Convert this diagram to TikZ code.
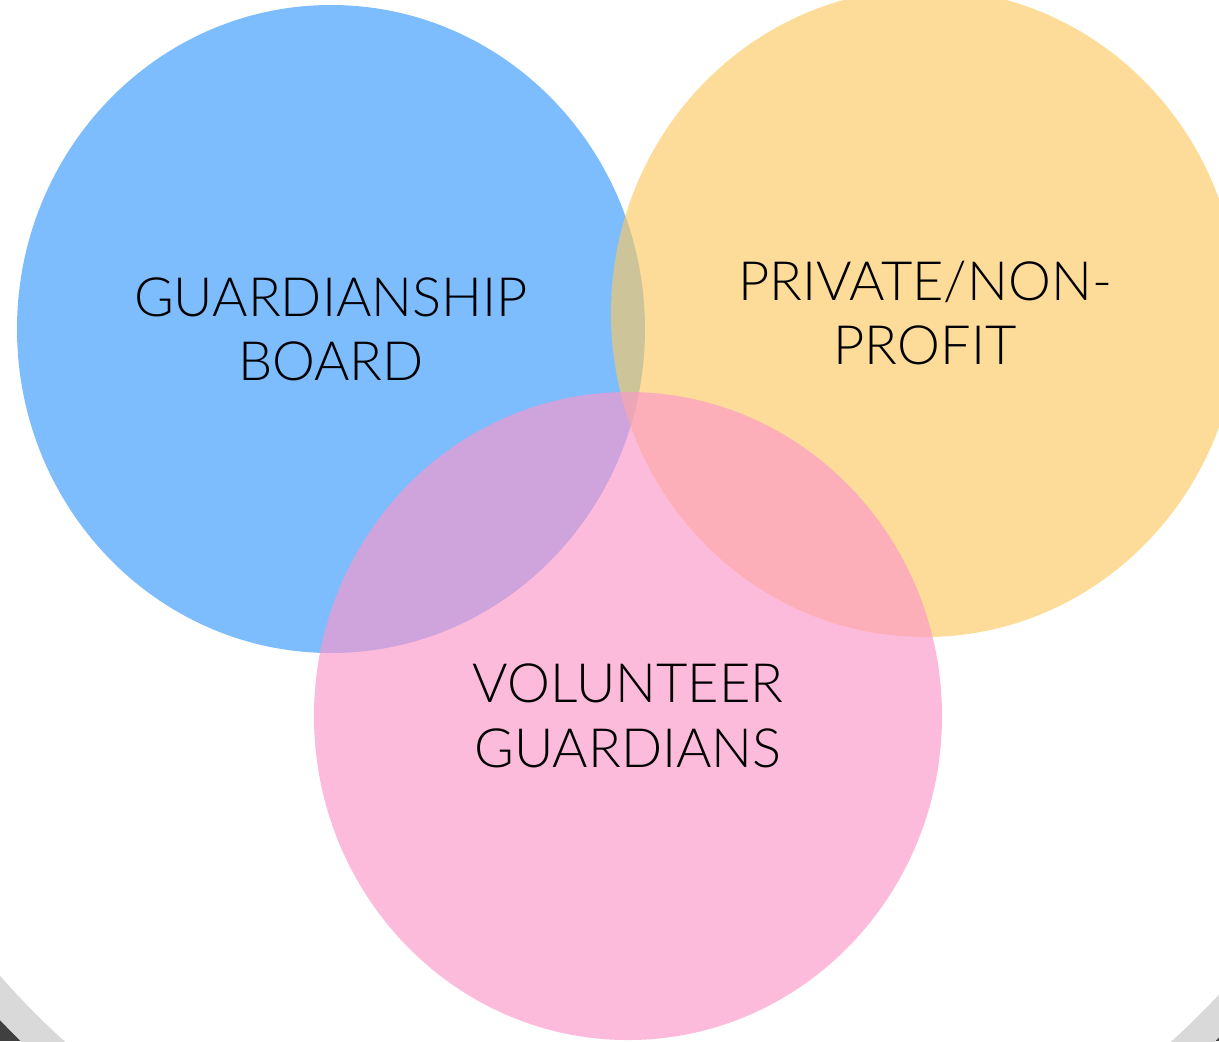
\documentclass[tikz,border=0pt]{standalone}
\usepackage{fontspec}
\setmainfont{Lato Light}
\usetikzlibrary{positioning}
\definecolor{azul}{RGB}{125,189,254}
\definecolor{naranja}{RGB}{253,201,95}
\definecolor{rosa}{RGB}{252,151,202}
\definecolor{grisclaro}{RGB}{217,217,217}
\definecolor{grisoscuro}{RGB}{64,64,64}
\tikzset{
    conjunto/.style={x radius=314, y radius=324},
    etiqueta/.style={align=center, text=black,
        font=\fontsize{15.4}{18.3}\selectfont}}

\begin{document}
\begin{tikzpicture}[x=0.01cm, y=0.01cm]
    \useasboundingbox (0,0) rectangle (1219,-1041);
    \begin{scope}
        \clip (0,0) rectangle (1219,-1041);
        \fill[grisoscuro] (0,0) rectangle (1219,-1041);
        \fill[grisclaro] (618,-432) circle [radius=853];
        \fill[white] (618,-432) circle [radius=823];
    \end{scope}
    \coordinate (c_guarda) at (331,-329);
    \coordinate (c_privado) at (925,-313);
    \coordinate (c_volunt) at (628,-716);
    \fill[azul] (c_guarda) ellipse [conjunto];
    \fill[naranja, fill opacity=0.63] (c_privado) ellipse [conjunto];
    \fill[rosa, fill opacity=0.65] (c_volunt) ellipse [conjunto];
    \node[etiqueta] (guarda) at (c_guarda) {GUARDIANSHIP\\BOARD};
    \node[etiqueta] (privado) at (c_privado) {PRIVATE/NON-\\PROFIT};
    \node[etiqueta] (volunt) at (c_volunt) {VOLUNTEER\\GUARDIANS};
\end{tikzpicture}
\end{document}
